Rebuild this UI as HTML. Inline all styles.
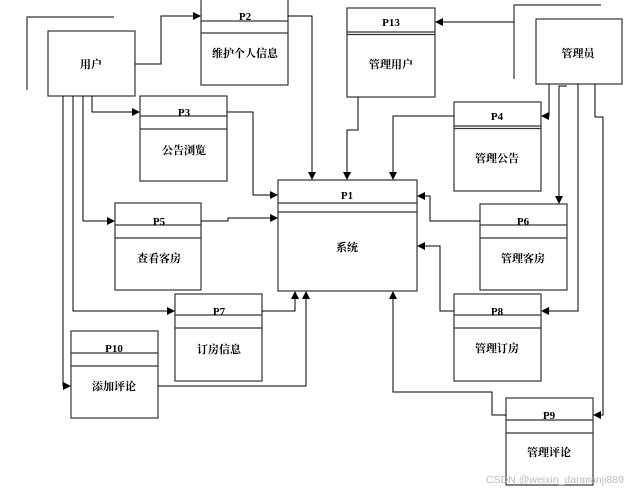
<!DOCTYPE html>
<html><head><meta charset="utf-8"><style>
body{margin:0;background:#fff;width:635px;height:491px;overflow:hidden}
text{font-family:"Liberation Serif","Noto Serif CJK SC",serif;font-size:11px;font-weight:bold;text-anchor:middle;fill:#000}
</style></head><body>
<svg width="635" height="491" viewBox="0 0 635 491">
<defs><marker id="a" markerWidth="8" markerHeight="8" refX="7" refY="4" orient="auto" markerUnits="userSpaceOnUse"><path d="M0,0 L8,4 L0,8z" fill="#000"/></marker></defs>
<g fill="none" stroke="#333" stroke-width="1.2">
<path d="M114,17 H27 V90"/>
<rect x="48" y="31" width="87" height="65"/>
<path d="M601,5 H514 V79"/>
<rect x="536" y="19" width="86" height="65"/>
<rect x="201" y="-5" width="87" height="90"/><path d="M201,21H288M201,33H288"/>
<rect x="140" y="96" width="87" height="85"/><path d="M140,116H227M140,129H227"/>
<rect x="278" y="180" width="139" height="111"/><path d="M278,203H417M278,212H417"/>
<rect x="115" y="203" width="86" height="87"/><path d="M115,225H201M115,238H201"/>
<rect x="175" y="294" width="87" height="87"/><path d="M175,315H262M175,328H262"/>
<rect x="71" y="331" width="87" height="87"/><path d="M71,353H158M71,366H158"/>
<rect x="347" y="8" width="88" height="89"/><path d="M347,32H435M347,34.5H435"/>
<rect x="454" y="102" width="87" height="89"/><path d="M454,126H541M454,128.5H541"/>
<rect x="480" y="204" width="87" height="86"/><path d="M480,225H567M480,238H567"/>
<rect x="454" y="294" width="87" height="87"/><path d="M454,315H541M454,328H541"/>
<rect x="506" y="398" width="87" height="87"/><path d="M506,420H593M506,433H593"/>
</g>
<g fill="none" stroke="#000" stroke-width="1" marker-end="url(#a)">
<path d="M135,64 H161 V16 H200"/>
<path d="M288,16 H312 V179"/>
<path d="M92,96 V112 H139"/>
<path d="M227,112 H253 V195 H277"/>
<path d="M83,96 V221 H114"/>
<path d="M201,221 H228 V218 H277"/>
<path d="M73,96 V311 H174"/>
<path d="M262,311 H295 V292"/>
<path d="M158,386 H306 V292"/>
<path d="M63,96 V386 H70"/>
<path d="M514,22 H436"/>
<path d="M358,97 V130 H347 V179"/>
<path d="M549,84 V116 H542"/>
<path d="M454,116 H393 V179"/>
<path d="M567,86 H559 V203"/>
<path d="M480,221 H430 V196 H418"/>
<path d="M578,84 V311 H542"/>
<path d="M454,311 H440 V246 H418"/>
<path d="M595,84 V117 H603 V415 H594"/>
<path d="M506,415 H492 V392 H393 V292"/>
</g>
<text x="91" y="68">用户</text>
<text x="578" y="57">管理员</text>
<text x="245" y="20">P2</text><text x="245" y="57">维护个人信息</text>
<text x="184" y="116">P3</text><text x="184" y="154">公告浏览</text>
<text x="347" y="199">P1</text><text x="347" y="251">系统</text>
<text x="159" y="225">P5</text><text x="159" y="262">查看客房</text>
<text x="219" y="315">P7</text><text x="219" y="353">订房信息</text>
<text x="114" y="352">P10</text><text x="114" y="390">添加评论</text>
<text x="391" y="26">P13</text><text x="391" y="68">管理用户</text>
<text x="497" y="120">P4</text><text x="497" y="162">管理公告</text>
<text x="523" y="225">P6</text><text x="523" y="262">管理客房</text>
<text x="497" y="315">P8</text><text x="497" y="352">管理订房</text>
<text x="549" y="419">P9</text><text x="549" y="456">管理评论</text>
<text x="555" y="483" style="font-family:'Liberation Sans',sans-serif;font-weight:normal;font-size:10.5px;fill:#bbb">CSDN @weixin_danpianji889</text>
</svg>
</body></html>
